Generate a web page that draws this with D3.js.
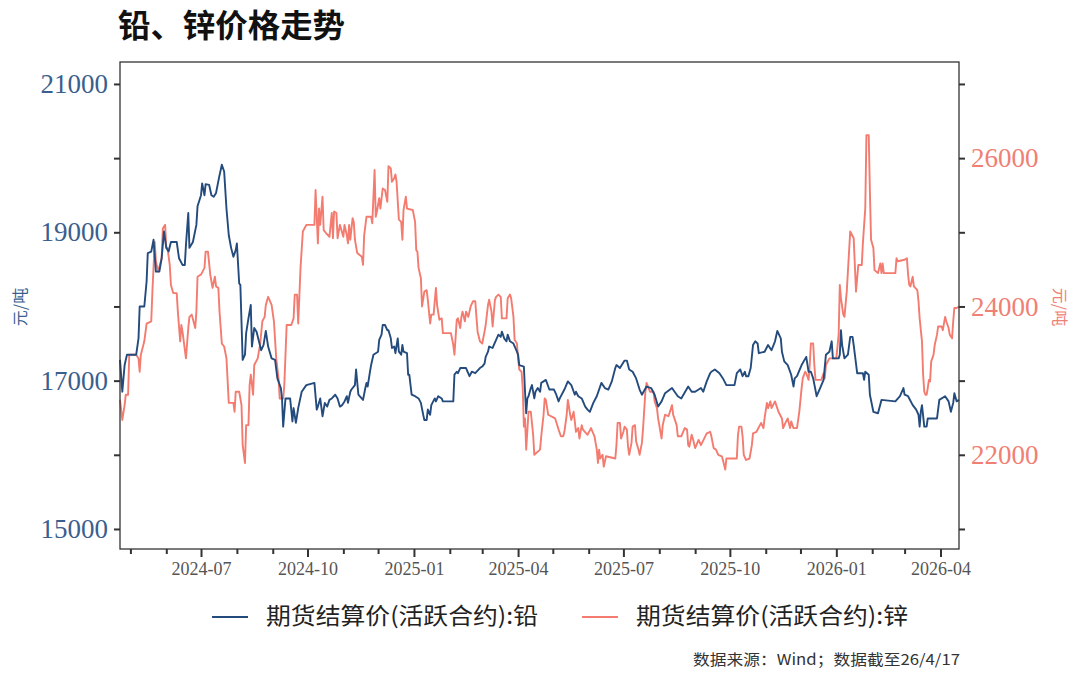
<!DOCTYPE html>
<html>
<head>
<meta charset="utf-8">
<title>铅、锌价格走势</title>
<script src="https://cdn.jsdelivr.net/npm/d3@7"></script>
<style>
body { margin: 0; background: #fff; }
</style>
</head>
<body>
<script>
// 期货结算价(活跃合约):铅
const leadDates = ["2024-04-22","2024-04-24","2024-04-26","2024-04-28","2024-05-06","2024-05-08","2024-05-09","2024-05-13","2024-05-15","2024-05-16","2024-05-19","2024-05-21","2024-05-23","2024-05-26","2024-05-28","2024-05-30","2024-06-01","2024-06-03","2024-06-05","2024-06-10","2024-06-12","2024-06-15","2024-06-17","2024-06-18","2024-06-20","2024-06-21","2024-06-24","2024-06-27","2024-06-28","2024-07-01","2024-07-02","2024-07-04","2024-07-05","2024-07-08","2024-07-10","2024-07-12","2024-07-14","2024-07-17","2024-07-19","2024-07-21","2024-07-23","2024-07-25","2024-07-27","2024-07-29","2024-07-31","2024-08-01","2024-08-03","2024-08-04","2024-08-06","2024-08-08","2024-08-09","2024-08-11","2024-08-13","2024-08-14","2024-08-16","2024-08-18","2024-08-22","2024-08-24","2024-08-26","2024-08-28","2024-08-31","2024-09-03","2024-09-05","2024-09-08","2024-09-09","2024-09-10","2024-09-12","2024-09-16","2024-09-18","2024-09-19","2024-09-21","2024-09-23","2024-09-26","2024-09-30","2024-10-07","2024-10-09","2024-10-10","2024-10-12","2024-10-14","2024-10-16","2024-10-18","2024-10-20","2024-10-22","2024-10-25","2024-10-27","2024-10-29","2024-10-31","2024-11-02","2024-11-04","2024-11-05","2024-11-07","2024-11-08","2024-11-11","2024-11-12","2024-11-14","2024-11-18","2024-11-20","2024-11-21","2024-11-22","2024-11-24","2024-11-25","2024-11-27","2024-12-01","2024-12-02","2024-12-04","2024-12-05","2024-12-07","2024-12-09","2024-12-10","2024-12-12","2024-12-13","2024-12-15","2024-12-16","2024-12-18","2024-12-19","2024-12-21","2024-12-22","2024-12-23","2024-12-26","2024-12-27","2024-12-28","2024-12-30","2025-01-02","2025-01-05","2025-01-07","2025-01-09","2025-01-10","2025-01-12","2025-01-13","2025-01-15","2025-01-16","2025-01-19","2025-01-20","2025-01-22","2025-01-25","2025-01-26","2025-02-04","2025-02-05","2025-02-07","2025-02-08","2025-02-10","2025-02-12","2025-02-15","2025-02-18","2025-02-20","2025-02-23","2025-02-27","2025-03-01","2025-03-03","2025-03-04","2025-03-06","2025-03-07","2025-03-10","2025-03-11","2025-03-13","2025-03-15","2025-03-17","2025-03-18","2025-03-20","2025-03-22","2025-03-23","2025-03-25","2025-03-28","2025-03-31","2025-04-01","2025-04-02","2025-04-06","2025-04-07","2025-04-08","2025-04-09","2025-04-10","2025-04-12","2025-04-13","2025-04-15","2025-04-16","2025-04-18","2025-04-20","2025-04-21","2025-04-25","2025-04-28","2025-05-02","2025-05-04","2025-05-06","2025-05-07","2025-05-11","2025-05-14","2025-05-17","2025-05-20","2025-05-21","2025-05-23","2025-05-26","2025-05-29","2025-05-31","2025-06-02","2025-06-05","2025-06-08","2025-06-12","2025-06-15","2025-06-18","2025-06-21","2025-06-24","2025-06-25","2025-06-28","2025-07-02","2025-07-04","2025-07-06","2025-07-09","2025-07-12","2025-07-15","2025-07-17","2025-07-21","2025-07-25","2025-07-28","2025-07-31","2025-08-03","2025-08-06","2025-08-12","2025-08-17","2025-08-20","2025-08-26","2025-08-29","2025-09-01","2025-09-06","2025-09-08","2025-09-11","2025-09-14","2025-09-15","2025-09-18","2025-09-22","2025-09-25","2025-09-28","2025-10-05","2025-10-07","2025-10-10","2025-10-12","2025-10-14","2025-10-15","2025-10-17","2025-10-19","2025-10-21","2025-10-23","2025-10-25","2025-10-26","2025-10-31","2025-11-03","2025-11-06","2025-11-09","2025-11-11","2025-11-14","2025-11-15","2025-11-17","2025-11-20","2025-11-23","2025-11-25","2025-11-26","2025-11-28","2025-12-02","2025-12-06","2025-12-08","2025-12-10","2025-12-12","2025-12-15","2025-12-18","2025-12-21","2025-12-23","2025-12-26","2025-12-28","2025-12-29","2026-01-03","2026-01-04","2026-01-05","2026-01-06","2026-01-08","2026-01-11","2026-01-13","2026-01-15","2026-01-16","2026-01-18","2026-01-19","2026-01-24","2026-01-25","2026-01-26","2026-01-29","2026-01-30","2026-02-02","2026-02-06","2026-02-09","2026-02-21","2026-02-25","2026-02-28","2026-03-01","2026-03-04","2026-03-08","2026-03-11","2026-03-13","2026-03-14","2026-03-15","2026-03-16","2026-03-18","2026-03-20","2026-03-21","2026-03-29","2026-03-31","2026-04-05","2026-04-08","2026-04-10","2026-04-12","2026-04-13","2026-04-15","2026-04-17"];
const leadValues = [17280,16850,17210,17350,17350,17570,18000,18000,18340,18720,18740,18900,18470,18470,18650,19010,18790,18740,18870,18870,18650,18560,18560,18830,19260,18790,18870,19100,19350,19500,19660,19500,19650,19640,19500,19480,19530,19770,19910,19820,19320,18960,18790,18670,18760,18850,18310,18290,17280,17350,17640,17840,18020,17460,17710,17660,17410,17480,17670,17460,17300,17280,17030,16900,16760,16380,16760,16760,16450,16630,16430,16630,16850,16940,16970,16610,16650,16760,16520,16700,16650,16740,16760,16810,16760,16650,16670,16720,16790,16700,16850,16880,16940,17150,16810,16740,16900,16970,16920,17120,17210,17350,17390,17550,17620,17750,17750,17680,17680,17570,17440,17460,17370,17570,17390,17350,17480,17390,17370,17080,17080,16810,16790,16760,16700,16540,16470,16470,16610,16540,16670,16760,16720,16790,16760,16720,16720,17080,17120,17100,17170,17170,17170,17060,17120,17100,17170,17190,17230,17320,17390,17460,17440,17480,17550,17620,17590,17660,17570,17530,17620,17530,17500,17390,17350,17210,17190,16850,16560,16760,16790,16900,16940,16760,16850,16900,16850,16970,17010,16880,16880,16810,16720,16760,16880,16990,16940,16810,16850,16790,16760,16650,16610,16580,16700,16790,16970,16900,16880,16990,17170,17210,17170,17270,17270,17150,17120,17030,16880,16810,16920,16900,16810,16650,16720,16830,16900,16790,16760,16920,16850,16850,16900,16850,16990,17100,17120,17150,17100,17030,16940,16940,17100,17150,17060,17120,17060,17060,17170,17480,17530,17500,17370,17390,17480,17410,17530,17670,17570,17390,17260,17210,17080,16920,17030,17060,17210,17320,17120,17120,17030,16790,16900,17010,17350,17390,17530,17300,17300,17350,17680,17480,17300,17350,17590,17590,17480,17230,17100,17100,17010,17120,17080,16810,16580,16560,16740,16720,16790,16900,16810,16790,16670,16610,16540,16380,16580,16670,16380,16380,16490,16490,16740,16790,16720,16580,16700,16830,16720,16740];

// 期货结算价(活跃合约):锌
const zincDates = ["2024-04-22","2024-04-24","2024-04-26","2024-04-27","2024-04-29","2024-04-30","2024-05-06","2024-05-08","2024-05-09","2024-05-10","2024-05-13","2024-05-15","2024-05-19","2024-05-20","2024-05-22","2024-05-23","2024-05-25","2024-05-28","2024-05-29","2024-05-31","2024-06-01","2024-06-02","2024-06-04","2024-06-05","2024-06-07","2024-06-10","2024-06-11","2024-06-13","2024-06-14","2024-06-15","2024-06-18","2024-06-20","2024-06-21","2024-06-23","2024-06-26","2024-06-27","2024-06-28","2024-07-01","2024-07-04","2024-07-05","2024-07-07","2024-07-09","2024-07-10","2024-07-11","2024-07-13","2024-07-14","2024-07-16","2024-07-17","2024-07-19","2024-07-21","2024-07-23","2024-07-25","2024-07-29","2024-07-30","2024-07-31","2024-08-03","2024-08-05","2024-08-06","2024-08-08","2024-08-09","2024-08-11","2024-08-12","2024-08-13","2024-08-15","2024-08-16","2024-08-19","2024-08-21","2024-08-23","2024-08-25","2024-08-26","2024-08-28","2024-08-31","2024-09-02","2024-09-04","2024-09-06","2024-09-07","2024-09-10","2024-09-11","2024-09-13","2024-09-17","2024-09-19","2024-09-20","2024-09-22","2024-09-23","2024-09-25","2024-09-27","2024-09-30","2024-10-07","2024-10-08","2024-10-10","2024-10-11","2024-10-12","2024-10-14","2024-10-15","2024-10-17","2024-10-20","2024-10-22","2024-10-23","2024-10-24","2024-10-26","2024-10-27","2024-10-29","2024-11-01","2024-11-02","2024-11-04","2024-11-05","2024-11-06","2024-11-07","2024-11-09","2024-11-10","2024-11-11","2024-11-13","2024-11-17","2024-11-18","2024-11-19","2024-11-21","2024-11-25","2024-11-26","2024-11-28","2024-11-29","2024-11-30","2024-12-02","2024-12-03","2024-12-05","2024-12-07","2024-12-09","2024-12-10","2024-12-12","2024-12-13","2024-12-15","2024-12-16","2024-12-17","2024-12-19","2024-12-21","2024-12-22","2024-12-23","2024-12-25","2024-12-26","2024-12-31","2025-01-02","2025-01-03","2025-01-04","2025-01-05","2025-01-07","2025-01-08","2025-01-10","2025-01-12","2025-01-13","2025-01-15","2025-01-16","2025-01-18","2025-01-20","2025-01-21","2025-01-23","2025-01-25","2025-01-26","2025-02-02","2025-02-04","2025-02-05","2025-02-07","2025-02-08","2025-02-10","2025-02-11","2025-02-12","2025-02-14","2025-02-15","2025-02-17","2025-02-19","2025-02-21","2025-02-23","2025-02-24","2025-02-25","2025-02-27","2025-03-01","2025-03-03","2025-03-04","2025-03-06","2025-03-07","2025-03-09","2025-03-10","2025-03-12","2025-03-13","2025-03-15","2025-03-17","2025-03-18","2025-03-22","2025-03-23","2025-03-25","2025-03-26","2025-03-28","2025-03-29","2025-03-31","2025-04-01","2025-04-02","2025-04-04","2025-04-05","2025-04-06","2025-04-07","2025-04-08","2025-04-10","2025-04-12","2025-04-14","2025-04-15","2025-04-20","2025-04-21","2025-04-23","2025-04-24","2025-04-25","2025-04-27","2025-05-03","2025-05-06","2025-05-08","2025-05-10","2025-05-11","2025-05-13","2025-05-14","2025-05-16","2025-05-17","2025-05-19","2025-05-20","2025-05-21","2025-05-23","2025-05-24","2025-05-26","2025-05-27","2025-05-31","2025-06-03","2025-06-06","2025-06-08","2025-06-09","2025-06-10","2025-06-11","2025-06-13","2025-06-14","2025-06-16","2025-06-24","2025-06-25","2025-06-26","2025-06-28","2025-06-29","2025-07-01","2025-07-02","2025-07-04","2025-07-05","2025-07-06","2025-07-08","2025-07-09","2025-07-11","2025-07-12","2025-07-14","2025-07-15","2025-07-17","2025-07-18","2025-07-20","2025-07-21","2025-07-24","2025-07-27","2025-07-28","2025-07-30","2025-07-31","2025-08-02","2025-08-03","2025-08-04","2025-08-06","2025-08-09","2025-08-12","2025-08-13","2025-08-16","2025-08-17","2025-08-20","2025-08-23","2025-08-25","2025-08-26","2025-08-27","2025-08-29","2025-08-30","2025-09-01","2025-09-04","2025-09-06","2025-09-11","2025-09-14","2025-09-15","2025-09-17","2025-09-19","2025-09-21","2025-09-24","2025-09-25","2025-09-27","2025-09-28","2025-10-07","2025-10-08","2025-10-09","2025-10-11","2025-10-12","2025-10-13","2025-10-15","2025-10-18","2025-10-20","2025-10-21","2025-10-24","2025-10-27","2025-10-28","2025-10-30","2025-10-31","2025-11-02","2025-11-03","2025-11-05","2025-11-06","2025-11-09","2025-11-12","2025-11-15","2025-11-16","2025-11-18","2025-11-20","2025-11-22","2025-11-23","2025-11-25","2025-11-28","2025-11-30","2025-12-01","2025-12-02","2025-12-03","2025-12-05","2025-12-06","2025-12-08","2025-12-09","2025-12-10","2025-12-12","2025-12-13","2025-12-14","2025-12-19","2025-12-21","2025-12-22","2025-12-23","2025-12-26","2026-01-01","2026-01-03","2026-01-04","2026-01-05","2026-01-07","2026-01-08","2026-01-10","2026-01-11","2026-01-13","2026-01-16","2026-01-17","2026-01-18","2026-01-20","2026-01-23","2026-01-24","2026-01-26","2026-01-27","2026-01-29","2026-01-30","2026-01-31","2026-02-02","2026-02-03","2026-02-06","2026-02-08","2026-02-09","2026-02-10","2026-02-11","2026-02-21","2026-02-22","2026-02-23","2026-03-01","2026-03-03","2026-03-04","2026-03-05","2026-03-06","2026-03-08","2026-03-09","2026-03-12","2026-03-13","2026-03-14","2026-03-16","2026-03-17","2026-03-18","2026-03-19","2026-03-20","2026-03-21","2026-03-22","2026-03-23","2026-03-24","2026-03-26","2026-03-27","2026-03-29","2026-03-30","2026-04-02","2026-04-03","2026-04-05","2026-04-06","2026-04-08","2026-04-09","2026-04-11","2026-04-12","2026-04-13","2026-04-15","2026-04-17"];
const zincValues = [22740,22470,22670,22810,22810,23350,23350,23300,23120,23350,23530,23770,23800,24200,24870,24610,24470,24650,25050,25100,24790,24790,24560,24290,24180,24180,23930,23530,23750,23660,23300,23710,23860,23890,23710,23930,24400,24430,24520,24740,24740,24430,24340,24250,24400,24270,24250,23930,23500,23460,23300,22700,22700,22580,22850,22850,22670,22130,21890,22400,22400,22940,23080,22810,23210,23300,23480,23800,23860,24020,24130,24020,23800,23300,23030,22760,22760,22940,23750,23750,23840,24160,24160,23770,24520,25010,25100,25100,25570,24850,25320,25100,25480,25030,24990,24940,25260,24920,25280,25260,24920,25100,24940,25100,24960,24850,25100,24900,25190,25140,24900,24720,24670,24560,24960,25210,25210,25120,25840,25210,25280,25460,25320,25590,25570,25410,25890,25860,25680,25730,25780,25680,25170,25140,24900,25300,25480,25320,25300,25140,24760,24740,24520,24380,24000,24200,24220,24090,23770,23890,23890,24250,24020,23820,23840,23640,23640,23480,23350,23820,23840,23710,23860,23930,23800,23930,23860,24000,24070,24070,23860,23660,23530,23500,23660,23750,24020,24090,23930,23730,24090,24130,24160,24130,23840,23840,24110,24160,24110,23860,23550,23500,23300,23150,23120,22900,22380,22490,22070,22580,22580,22270,22000,22070,22250,22540,22760,22740,22540,22490,22340,22250,22250,22310,22540,22740,22540,22470,22580,22450,22310,22360,22220,22400,22340,22270,22360,22250,22070,21890,22070,21950,22000,21840,21980,21950,22130,22430,22430,22220,22310,22380,22340,22110,22000,22160,22380,22400,22180,22070,22000,22160,22360,22850,22970,22850,22850,22720,22630,22490,22310,22220,22400,22540,22520,22670,22540,22400,22250,22250,22360,22340,22130,22110,22270,22220,22090,22200,22130,22290,22310,22250,22090,22070,22000,21980,21930,21800,21950,21950,22270,22380,22380,22250,22000,21930,21950,22130,22290,22310,22400,22430,22360,22490,22700,22630,22720,22630,22720,22580,22490,22360,22430,22490,22360,22450,22360,22360,22580,22740,22900,23030,23120,23100,23010,23210,23500,23500,23210,23010,23010,23100,23030,23210,23300,23300,23620,24290,24110,23890,23860,24200,24470,25010,24920,24560,24200,24560,24560,24870,25320,26310,26310,25550,24900,24790,24490,24450,24580,24450,24580,24450,24450,24650,24610,24630,24650,24430,24290,24270,24400,24270,24220,24070,23840,23530,23080,22850,22810,22810,22900,23010,22990,23260,23350,23480,23620,23730,23730,23680,23860,23800,23710,23620,23570,23800,23980,23980,24000];

const seriesNames = ["期货结算价(活跃合约):铅", "期货结算价(活跃合约):锌"];
const seriesColors = ["#244b7d", "#f37b6f"];
const leftTicks = [15000, 16000, 17000, 18000, 19000, 20000, 21000];
const leftLabels = [15000, 17000, 19000, 21000];
const rightTicks = [21000, 22000, 23000, 24000, 25000, 26000, 27000];
const rightLabels = [22000, 24000, 26000];
const xRange = ["2024-04-22", "2026-04-17"];
const titleText = "铅、锌价格走势";
const unitText = "元/吨";
const sourceText = "数据来源：Wind；数据截至26/4/17";

const width = 1080, height = 687;
const plot = {left: 120, right: 959, top: 62, bottom: 549};
const cjk = "'Noto Sans CJK SC', sans-serif";
const serif = "'Liberation Serif', 'DejaVu Serif', serif";

const parse = d3.timeParse("%Y-%m-%d");
const lead = leadDates.map((d, i) => ({date: parse(d), value: leadValues[i]}));
const zinc = zincDates.map((d, i) => ({date: parse(d), value: zincValues[i]}));

const svg = d3.select("body").append("svg")
  .attr("width", width)
  .attr("height", height)
  .attr("xmlns", "http://www.w3.org/2000/svg");

const x = d3.scaleTime().domain(xRange.map(parse)).range([plot.left, plot.right]);
const yL = d3.scaleLinear().domain([14730, 21296]).range([plot.bottom, plot.top]);
const yR = d3.scaleLinear().domain([20730, 27296]).range([plot.bottom, plot.top]);

// title
svg.append("text")
  .attr("x", 118).attr("y", 28)
  .attr("dominant-baseline", "middle")
  .attr("textLength", 227).attr("lengthAdjust", "spacingAndGlyphs")
  .style("font-family", cjk).style("font-weight", 700).style("font-size", "32px")
  .attr("fill", "#111")
  .text(titleText);

// left axis
const gL = svg.append("g").attr("transform", `translate(${plot.left},0)`)
  .call(d3.axisLeft(yL).tickValues(leftTicks).tickSize(6).tickPadding(6)
    .tickFormat(d => leftLabels.includes(d) ? d : ""));
gL.select(".domain").remove();
gL.selectAll(".tick line").attr("stroke", "#333").attr("stroke-width", 2);
gL.selectAll(".tick text").attr("fill", "#3a5f8e")
  .style("font-family", serif).style("font-size", "27px");

// right axis
const gR = svg.append("g").attr("transform", `translate(${plot.right},0)`)
  .call(d3.axisRight(yR).tickValues(rightTicks).tickSize(6).tickPadding(6)
    .tickFormat(d => rightLabels.includes(d) ? d : ""));
gR.select(".domain").remove();
gR.selectAll(".tick line").attr("stroke", "#333").attr("stroke-width", 2);
gR.selectAll(".tick text").attr("fill", "#f08074")
  .style("font-family", serif).style("font-size", "27px");

// x axis: monthly ticks, quarterly labels with longer ticks
const months = d3.timeMonth.range(new Date(2024, 4, 1), new Date(2026, 3, 2));
const gX = svg.append("g").attr("transform", `translate(0,${plot.bottom})`)
  .call(d3.axisBottom(x).tickValues(months).tickSize(5).tickPadding(8)
    .tickFormat(d => d.getMonth() % 3 === 0 ? d3.timeFormat("%Y-%m")(d) : ""));
gX.select(".domain").remove();
gX.selectAll(".tick line").attr("stroke", "#333").attr("stroke-width", 2)
  .attr("y2", d => d.getMonth() % 3 === 0 ? 8 : 5);
gX.selectAll(".tick text").attr("fill", "#555")
  .style("font-family", serif).style("font-size", "18px");

// lines
const lineL = d3.line().x(d => x(d.date)).y(d => yL(d.value));
const lineR = d3.line().x(d => x(d.date)).y(d => yR(d.value));
svg.append("path").datum(zinc)
  .attr("fill", "none").attr("stroke", seriesColors[1]).attr("stroke-width", 1.9)
  .attr("stroke-linejoin", "round").attr("d", lineR);
svg.append("path").datum(lead)
  .attr("fill", "none").attr("stroke", seriesColors[0]).attr("stroke-width", 1.9)
  .attr("stroke-linejoin", "round").attr("d", lineL);

// panel border
svg.append("rect")
  .attr("x", plot.left).attr("y", plot.top)
  .attr("width", plot.right - plot.left).attr("height", plot.bottom - plot.top)
  .attr("fill", "none").attr("stroke", "#333").attr("stroke-width", 1.3);

// axis titles
svg.append("text")
  .attr("transform", "translate(22,307) rotate(-90)")
  .attr("text-anchor", "middle").attr("dominant-baseline", "middle")
  .style("font-family", cjk).style("font-size", "16px")
  .attr("fill", "#3a5f8e").text(unitText);
svg.append("text")
  .attr("transform", "translate(1058,307) rotate(90)")
  .attr("text-anchor", "middle").attr("dominant-baseline", "middle")
  .style("font-family", cjk).style("font-size", "16px")
  .attr("fill", "#f08074").text(unitText);

// legend
const legendX = [212, 582];
seriesNames.forEach((name, i) => {
  svg.append("line")
    .attr("x1", legendX[i]).attr("x2", legendX[i] + 36)
    .attr("y1", 617).attr("y2", 617)
    .attr("stroke", seriesColors[i]).attr("stroke-width", 2);
  svg.append("text")
    .attr("x", legendX[i] + 54).attr("y", 618)
    .attr("dominant-baseline", "middle")
    .attr("textLength", 272).attr("lengthAdjust", "spacingAndGlyphs")
    .style("font-family", cjk).style("font-size", "23px")
    .attr("fill", "#222").text(name);
});

// source note
svg.append("text")
  .attr("x", 960).attr("y", 661)
  .attr("text-anchor", "end").attr("dominant-baseline", "middle")
  .attr("textLength", 267).attr("lengthAdjust", "spacingAndGlyphs")
  .style("font-family", cjk).style("font-size", "15px")
  .attr("fill", "#333").text(sourceText);
</script>
</body>
</html>
